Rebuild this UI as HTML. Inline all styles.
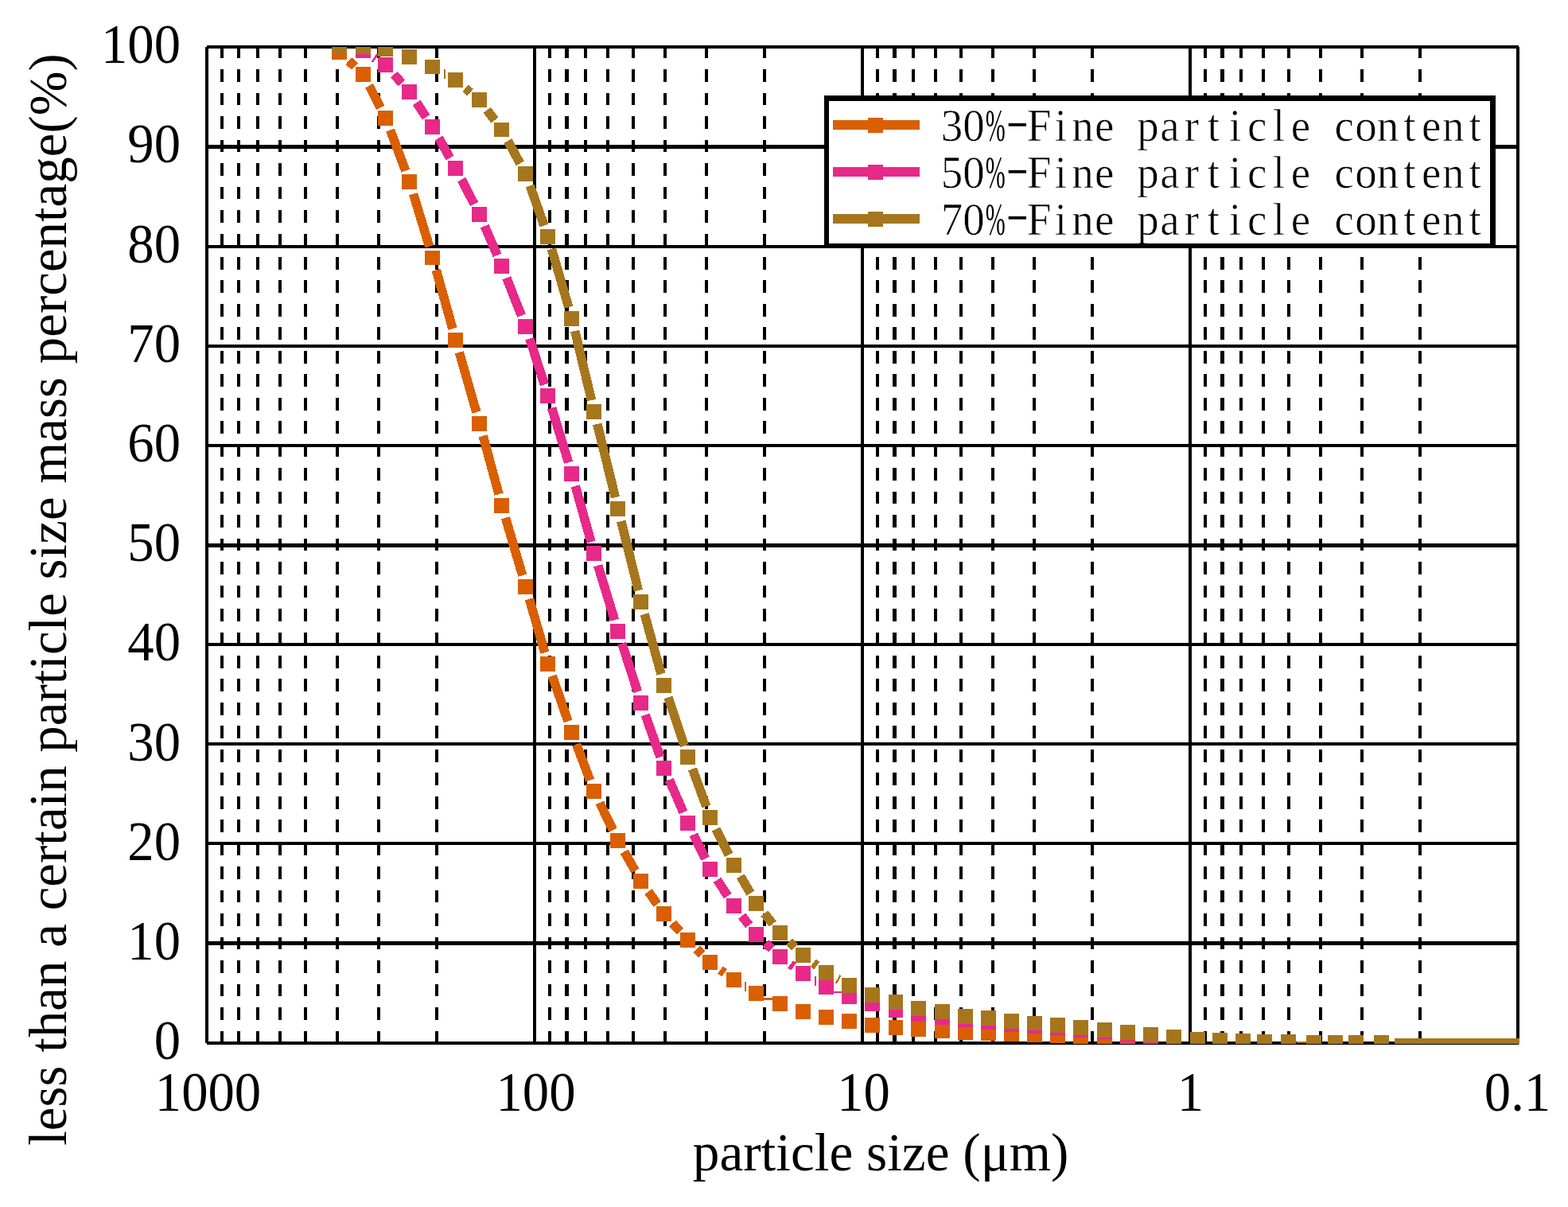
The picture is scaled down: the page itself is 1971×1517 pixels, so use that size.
<!DOCTYPE html>
<html lang="en">
<head>
<meta charset="utf-8">
<title>Particle size distribution</title>
<style>
html,body{margin:0;padding:0;background:#fff;}
body{width:1971px;height:1517px;overflow:hidden;}
svg{display:block;}
text.t{font-family:"Liberation Serif",serif;font-size:66.67px;fill:#000;}
text.lg{font-family:"Liberation Serif","Noto Serif CJK SC",serif;font-size:55px;fill:#000;text-anchor:middle;stroke:#fff;stroke-width:0.6px;paint-order:fill stroke;}
</style>
</head>
<body>
<svg width="1971" height="1517" viewBox="0 0 1971 1517" shape-rendering="crispEdges">
<rect width="1971" height="1517" fill="#fff"/>
<g><path d="M279 57.78V1313M300 57.78V1313M324 57.78V1313M352 57.78V1313M384 57.78V1313M424 57.78V1313M476 57.78V1313M549 57.78V1313M691 57.78V1313M736 57.78V1313M764 57.78V1313M796 57.78V1313M836 57.78V1313M888 57.78V1313M961 57.78V1313M1103 57.78V1313M1148 57.78V1313M1176 57.78V1313M1208 57.78V1313M1248 57.78V1313M1300 57.78V1313M1373 57.78V1313M1515 57.78V1313M1560 57.78V1313M1588 57.78V1313M1620 57.78V1313M1660 57.78V1313M1712 57.78V1313M1785 57.78V1313" stroke="#000" stroke-width="4" stroke-dasharray="15.68 13.79" fill="none"/>
<path d="M712.5 57.78V1313M1124.5 57.78V1313M1536.5 57.78V1313" stroke="#000" stroke-width="5" stroke-dasharray="15.68 13.79" fill="none"/>
<path d="M672 59V1311M1084 59V1311M1496 59V1311" stroke="#000" stroke-width="4" fill="none"/>
<path d="M260 182H1908V187H260zM260 308H1908V312H260zM260 433H1908V437H260zM260 558H1908V562H260zM260 683H1908V688H260zM260 808H1908V812H260zM260 933H1908V937H260zM260 1058H1908V1062H260zM260 1183H1908V1188H260z" fill="#000"/>
<path d="M260 57H1909V61H260zM260 1309H1909V1313H260zM258 59H262V1311H258zM1906 59H1910V1311H1906z" fill="#000"/></g>
<clipPath id="cp"><rect x="258" y="59" width="1652" height="1253"/></clipPath>
<g clip-path="url(#cp)">
<path transform="translate(0.6 0.5)" d="M437.76 76.01L445.24 82.99M463.49 107.22L477.51 134.78M489.91 162.92L509.09 214.08M518.97 243.24L539.03 309.26M547.65 338.83L568.35 412.67M576.73 442.31L598.27 517.69M606.54 547.36L626.46 620.64M634.85 650.27L656.15 722.73M664.77 752.3L684.23 819.7M693.57 849.04L713.43 905.96M723.95 934.9L741.05 980.1M753.21 1008.36L769.79 1042.64M784.11 1069.89L797.89 1094.11M814.39 1120.07L825.61 1135.93M844.86 1159.9L854.14 1170.1M875.39 1192.39L881.61 1198.61M904.92 1218.61L910.08 1222.39" fill="none" stroke="#D95F02" stroke-width="11.5"/>
<path d="M936 1234H938V1246H936zM960 1254H971V1257H960zM417 56H436V75H417zM447 84H466V103H447zM475 139H494V158H475zM505 219H524V238H505zM534 315H553V333H534zM563 418H582V437H563zM593 523H612V542H593zM621 626H640V645H621zM651 728H670V747H651zM679 825H698V844H679zM709 911H728V930H709zM737 985H756V1004H737zM767 1047H786V1066H767zM796 1098H815V1117H796zM825 1139H844V1158H825zM855 1172H874V1191H855zM883 1200H902V1219H883zM913 1222H932V1241H913zM941 1239H960V1258H941zM971 1252H990V1271H971zM1000 1262H1019V1281H1000zM1029 1269H1048V1288H1029zM1058 1274H1077V1293H1058zM1087 1279H1106V1298H1087zM1117 1282H1135V1301H1117zM1145 1284H1164V1303H1145zM1175 1286H1194V1305H1175zM1204 1288H1223V1307H1204zM1233 1289H1252V1308H1233zM1262 1290H1281V1309H1262zM1291 1291H1310V1310H1291zM1320 1292H1339V1311H1320zM1349 1294H1368V1313H1349zM1379 1295H1398V1314H1379zM1408 1296H1427V1315H1408z" fill="#D95F02"/>
<path transform="translate(0.6 0.5)" d="M469.45 71.83L471.55 73.17M494.69 93.05L504.31 103.95M522.97 128.36L535.03 146.64M551 172.95L565 198.05M579.58 225.18L595.42 255.82M608.59 283.64L624.41 320.36M636.15 348.82L654.85 396.18M665.22 425.16L683.78 482.84M693.01 512.23L713.99 580.77M722.65 610.33L742.35 680.67M751.01 710.23L771.99 778.77M781.22 808.16L800.78 868.84M810.63 898.02L829.37 950.98M840.64 979.62L858.36 1020.38M871.2 1048.37L885.8 1078.63M900.91 1105.4L914.09 1125.6M931.95 1150.66L941.05 1162.34M961.76 1185.01L969.24 1191.99M992.97 1211.53L997.03 1214.47" fill="none" stroke="#E7298A" stroke-width="11.5"/>
<path d="M1024 1227H1026V1239H1024zM1048 1246H1058V1248H1048zM447 54H466V73H447zM475 72H494V91H475zM505 106H524V125H505zM534 150H553V169H534zM563 202H582V221H563zM593 260H612V279H593zM621 325H640V344H621zM651 401H670V420H651zM679 488H698V507H679zM709 586H728V605H709zM737 686H756V705H737zM767 784H786V803H767zM796 874H815V893H796zM825 956H844V975H825zM855 1025H874V1044H855zM883 1083H902V1102H883zM913 1129H932V1148H913zM941 1165H960V1184H941zM971 1193H990V1212H971zM1000 1214H1019V1233H1000zM1029 1231H1048V1250H1029zM1058 1243H1077V1262H1058zM1087 1252H1106V1271H1087zM1117 1260H1135V1279H1117zM1145 1265H1164V1284H1145zM1175 1269H1194V1288H1175zM1204 1272H1223V1291H1204zM1233 1275H1252V1294H1233zM1262 1278H1281V1297H1262zM1291 1280H1310V1299H1291zM1320 1282H1339V1301H1320zM1349 1285H1368V1304H1349zM1379 1287H1398V1306H1379zM1408 1291H1427V1310H1408zM1437 1294H1456V1313H1437z" fill="#E7298A"/>
<path transform="translate(0.6 0.5)" d="M584.33 110.36L590.67 115.64M611.71 137.84L621.29 150.66M637.82 176.55L653.18 204.95M665.64 233.02L683.36 282.98M692.81 312.29L714.19 385.71M722.08 415.48L742.92 502.52M750.18 532.45L772.82 624.55M780.2 654.45L801.8 741.55M809.6 771.34L830.4 846.66M839.37 876.11L859.63 936.89M869.82 965.95L887.18 1013.05M899.39 1041.27L915.61 1073.73M930.26 1100.8L942.74 1122.2M960.2 1147.46L970.8 1160.54M991.58 1183.2L998.42 1189.8M1021.77 1209.81L1026.23 1213.19M1051.98 1229.94L1054.02 1231.06M1752.4 1310.5H1912" fill="none" stroke="#A6761D" stroke-width="11.5"/>
<path d="M558 87H560V99H558zM1630 1309H1642V1311H1630zM417 49H436V68H417zM447 49H466V68H447zM475 52H494V71H475zM505 62H524V81H505zM534 75H553V93H534zM563 91H582V110H563zM593 116H612V135H593zM621 154H640V172H621zM651 209H670V228H651zM679 288H698V307H679zM709 391H728V410H709zM737 508H756V527H737zM767 630H786V649H767zM796 747H815V766H796zM825 852H844V871H825zM855 942H874V961H855zM883 1018H902V1037H883zM913 1078H932V1097H913zM941 1126H960V1145H941zM971 1163H990V1182H971zM1000 1191H1019V1210H1000zM1029 1213H1048V1232H1029zM1058 1229H1077V1248H1058zM1087 1241H1106V1260H1087zM1117 1250H1135V1269H1117zM1145 1258H1164V1277H1145zM1175 1262H1194V1281H1175zM1204 1268H1223V1287H1204zM1233 1270H1252V1289H1233zM1262 1274H1281V1293H1262zM1291 1277H1310V1295H1291zM1320 1279H1339V1298H1320zM1349 1282H1368V1301H1349zM1379 1285H1398V1304H1379zM1408 1288H1427V1307H1408zM1437 1291H1456V1310H1437zM1466 1294H1485V1313H1466zM1496 1297H1515V1316H1496zM1524 1298H1543V1317H1524zM1553 1299H1572V1318H1553zM1580 1300H1599V1319H1580zM1610 1300H1629V1319H1610zM1642 1301H1661V1320H1642zM1669 1301H1688V1320H1669zM1695 1301H1714V1320H1695zM1727 1301H1746V1320H1727z" fill="#A6761D"/>
</g>
<path d="M1036 120H1880V312H1036z" fill="#fff"/>
<path d="M1047 157H1156" stroke="#D95F02" stroke-width="12" fill="none"/>
<rect x="1091" y="148" width="19" height="19" fill="#D95F02"/>
<path d="M1047 216H1156" stroke="#E7298A" stroke-width="12" fill="none"/>
<rect x="1091" y="207" width="19" height="19" fill="#E7298A"/>
<path d="M1047 275H1156" stroke="#A6761D" stroke-width="12" fill="none"/>
<rect x="1091" y="266" width="19" height="19" fill="#A6761D"/>
<text class="lg" transform="translate(0 176.8) scale(1 1.03)" x="1196.5 1223.9 1251.3 1278.7 1306.1 1333.5 1360.9 1388.3 1415.7 1443.1 1470.5 1497.9 1525.3 1552.7 1580.1 1607.5 1634.9 1662.3 1689.7 1717.1 1744.5 1771.9 1799.3 1826.7 1854.1" y="0">30<tspan textLength="25" lengthAdjust="spacingAndGlyphs" style="stroke:none">%</tspan><tspan dy="-7" textLength="30" lengthAdjust="spacingAndGlyphs">-</tspan><tspan dy="7">Fine particle content</tspan></text>
<text class="lg" transform="translate(0 235.7) scale(1 1.03)" x="1196.5 1223.9 1251.3 1278.7 1306.1 1333.5 1360.9 1388.3 1415.7 1443.1 1470.5 1497.9 1525.3 1552.7 1580.1 1607.5 1634.9 1662.3 1689.7 1717.1 1744.5 1771.9 1799.3 1826.7 1854.1" y="0">50<tspan textLength="25" lengthAdjust="spacingAndGlyphs" style="stroke:none">%</tspan><tspan dy="-7" textLength="30" lengthAdjust="spacingAndGlyphs">-</tspan><tspan dy="7">Fine particle content</tspan></text>
<text class="lg" transform="translate(0 294.6) scale(1 1.03)" x="1196.5 1223.9 1251.3 1278.7 1306.1 1333.5 1360.9 1388.3 1415.7 1443.1 1470.5 1497.9 1525.3 1552.7 1580.1 1607.5 1634.9 1662.3 1689.7 1717.1 1744.5 1771.9 1799.3 1826.7 1854.1" y="0">70<tspan textLength="25" lengthAdjust="spacingAndGlyphs" style="stroke:none">%</tspan><tspan dy="-7" textLength="30" lengthAdjust="spacingAndGlyphs">-</tspan><tspan dy="7">Fine particle content</tspan></text>
<path fill-rule="evenodd" d="M1036 120H1880V312H1036zM1042 127V306H1873V127z" fill="#000"/>
<text class="t" text-anchor="end" transform="translate(227 1331.2) scale(1 1.05)">0</text>
<text class="t" text-anchor="end" transform="translate(227 1206) scale(1 1.05)">10</text>
<text class="t" text-anchor="end" transform="translate(227 1080.8) scale(1 1.05)">20</text>
<text class="t" text-anchor="end" transform="translate(227 955.6) scale(1 1.05)">30</text>
<text class="t" text-anchor="end" transform="translate(227 830.4) scale(1 1.05)">40</text>
<text class="t" text-anchor="end" transform="translate(227 705.2) scale(1 1.05)">50</text>
<text class="t" text-anchor="end" transform="translate(227 580) scale(1 1.05)">60</text>
<text class="t" text-anchor="end" transform="translate(227 454.8) scale(1 1.05)">70</text>
<text class="t" text-anchor="end" transform="translate(227 329.6) scale(1 1.05)">80</text>
<text class="t" text-anchor="end" transform="translate(227 204.4) scale(1 1.05)">90</text>
<text class="t" text-anchor="end" transform="translate(227 79.2) scale(1 1.05)">100</text>
<text class="t" text-anchor="middle" transform="translate(261.5 1395.6) scale(1 1.05)">1000</text>
<text class="t" text-anchor="middle" transform="translate(673.5 1395.6) scale(1 1.05)">100</text>
<text class="t" text-anchor="middle" transform="translate(1085.5 1395.6) scale(1 1.05)">10</text>
<text class="t" text-anchor="middle" transform="translate(1496.5 1395.6) scale(1 1.05)">1</text>
<text class="t" text-anchor="middle" transform="translate(1907.5 1395.6) scale(1 1.05)">0.1</text>
<text class="t" text-anchor="middle" x="1107.1" y="1470.6" style="font-size:67.2px">particle size (μm)</text>
<text class="t" text-anchor="middle" transform="translate(83 753.5) rotate(-90)" style="font-size:66.9px">less than a certain particle size mass percentage(%)</text>
</svg>
</body>
</html>
